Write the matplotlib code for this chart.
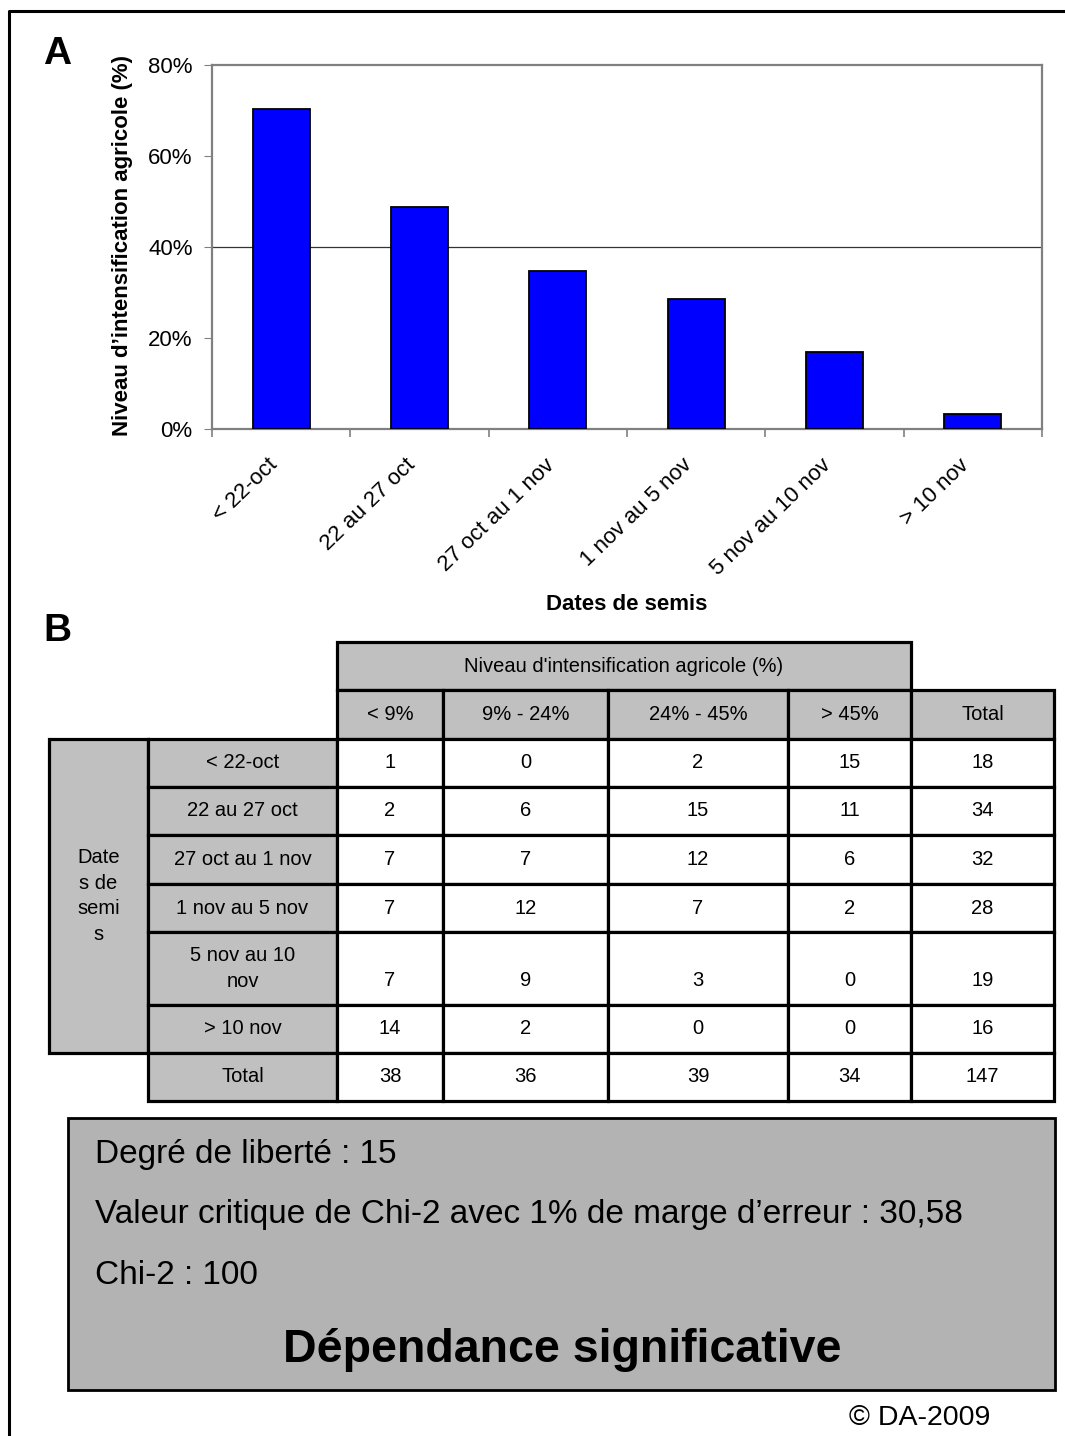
import matplotlib
matplotlib.use("Agg")
import matplotlib.pyplot as plt
import matplotlib.transforms as mtransforms
from matplotlib.patches import Rectangle
from matplotlib.lines import Line2D
import numpy as np

plt.rcParams["font.family"] = ["Liberation Sans", "DejaVu Sans"]

# ── data ────────────────────────────────────────────────────────────
dates = ["< 22-oct", "22 au 27 oct", "27 oct au 1 nov", "1 nov au 5 nov",
         "5 nov au 10 nov", "> 10 nov"]
niveau = [70.3, 48.8, 34.7, 28.6, 17.0, 3.3]          # %

row_labels = ["< 22-oct", "22 au 27 oct", "27 oct au 1 nov", "1 nov au 5 nov",
              "5 nov au 10\nnov", "> 10 nov"]
col_labels = ["< 9%", "9% - 24%", "24% - 45%", "> 45%"]
counts = [[1, 0, 2, 15],
          [2, 6, 15, 11],
          [7, 7, 12, 6],
          [7, 12, 7, 2],
          [7, 9, 3, 0],
          [14, 2, 0, 0]]
row_totals = [18, 34, 32, 28, 19, 16]
col_totals = [38, 36, 39, 34]
grand_total = 147

stats_lines = ["Degré de liberté : 15",
               "Valeur critique de Chi-2 avec 1% de marge d\u2019erreur : 30,58",
               "Chi-2 : 100"]
conclusion = "Dépendance significative"

# ── figure / pixel overlay ──────────────────────────────────────────
W, H = 1065, 1436
fig = plt.figure(figsize=(W / 100, H / 100), dpi=100)
over = fig.add_axes([0, 0, 1, 1])
over.set_xlim(0, W)
over.set_ylim(H, 0)
over.axis("off")

# outer frame (only top/left edges visible in the crop)
over.add_line(Line2D([9, 9, W + 60], [H + 60, 11, 11], color="black", lw=2.2))

# ── panel A : bar chart ─────────────────────────────────────────────
ax_l, ax_r, ax_t, ax_b = 212, 1042, 65, 429
ax = fig.add_axes([ax_l / W, 1 - ax_b / H, (ax_r - ax_l) / W, (ax_b - ax_t) / H])
x = np.arange(len(dates))
ax.bar(x, niveau, width=0.41, color="#0000ff", edgecolor="black", linewidth=1.3, zorder=3)
ax.axhline(40, color="#333333", lw=0.9, zorder=1)
ax.set_xlim(-0.5, len(dates) - 0.5)
ax.set_ylim(0, 80)
ax.set_yticks([0, 20, 40, 60, 80])
ax.set_yticklabels([f"{v}%" for v in [0, 20, 40, 60, 80]], fontsize=16)
ax.tick_params(axis="y", length=6, color="#808080", pad=8)
ax.set_xticks(x)
ax.set_xticklabels(dates, rotation=44, ha="right", rotation_mode="anchor", fontsize=16)
ax.tick_params(axis="x", length=0, pad=14)
shift = mtransforms.ScaledTranslation(-14 / 100, -6 / 100, fig.dpi_scale_trans)
for lab in ax.get_xticklabels():
    lab.set_transform(lab.get_transform() + shift)
ax.set_xticks(np.arange(-0.5, len(dates)), minor=True)
ax.tick_params(axis="x", which="minor", length=6, color="#808080", width=1.2)
for s in ax.spines.values():
    s.set_color("#808080")
    s.set_linewidth(1.6)
ax.set_ylabel("Niveau d\u2019intensification agricole (%)", fontsize=16,
              fontweight="bold")
ax.yaxis.set_label_coords((133 - ax_l) / (ax_r - ax_l), (ax_b - 245) / (ax_b - ax_t))

over.text(627, 605, "Dates de semis", fontsize=16, fontweight="bold", ha="center", va="center")
over.text(57, 54, "A", fontsize=28, fontweight="bold", ha="center", va="center")
over.text(57, 631, "B", fontsize=28, fontweight="bold", ha="center", va="center")

# ── panel B : contingency table ─────────────────────────────────────
GREY = "#c0c0c0"
LW = 2.3
TFS = 14.5
col_x = [337, 443, 608, 788, 911, 1054]
row_y = [739, 787, 835, 884, 932, 1005, 1053, 1101]
head_y = [642, 690, 739]
lab_x = [148, 337]
grp_x = [49, 148]


def cell(x0, y0, x1, y1, fill, text=None, ty=None, **kw):
    over.add_patch(Rectangle((x0, y0), x1 - x0, y1 - y0, facecolor=fill,
                             edgecolor="black", lw=LW, zorder=2))
    if text is not None:
        over.text((x0 + x1) / 2, (y0 + y1) / 2 if ty is None else ty, text,
                  ha="center", va="center", fontsize=TFS, zorder=3, **kw)


cell(col_x[0], head_y[0], col_x[4], head_y[1], GREY,
     "Niveau d'intensification agricole (%)")
for j, lab in enumerate(col_labels + ["Total"]):
    cell(col_x[j], head_y[1], col_x[j + 1], head_y[2], GREY, lab)

cell(grp_x[0], row_y[0], grp_x[1], row_y[6], GREY, "Date\ns de\nsemi\ns", linespacing=1.45)

for i, lab in enumerate(row_labels):
    y0, y1 = row_y[i], row_y[i + 1]
    ty = None if "\n" not in lab else y1 - 24
    cell(lab_x[0], y0, lab_x[1], y1, GREY, lab, linespacing=1.45)
    vals = counts[i] + [row_totals[i]]
    for j, v in enumerate(vals):
        cell(col_x[j], y0, col_x[j + 1], y1, "white", str(v), ty=ty)

y0, y1 = row_y[6], row_y[7]
cell(lab_x[0], y0, lab_x[1], y1, GREY, "Total")
for j, v in enumerate(col_totals + [grand_total]):
    cell(col_x[j], y0, col_x[j + 1], y1, "white", str(v))

# ── chi-2 summary box ───────────────────────────────────────────────
over.add_patch(Rectangle((68, 1118), 1055 - 68, 1390 - 1118, facecolor="#b3b3b3",
                         edgecolor="black", lw=2.0, zorder=2))
for k, line in enumerate(stats_lines):
    over.text(95, 1155 + 60 * k, line, fontsize=24, ha="left", va="center", zorder=3)
over.text(562, 1350, conclusion, fontsize=33.5, fontweight="bold", ha="center",
          va="center", zorder=3)

over.text(920, 1418, "\u00a9 DA-2009", fontsize=20.5, ha="center", va="center")

fig.savefig("out.png", dpi=100)
